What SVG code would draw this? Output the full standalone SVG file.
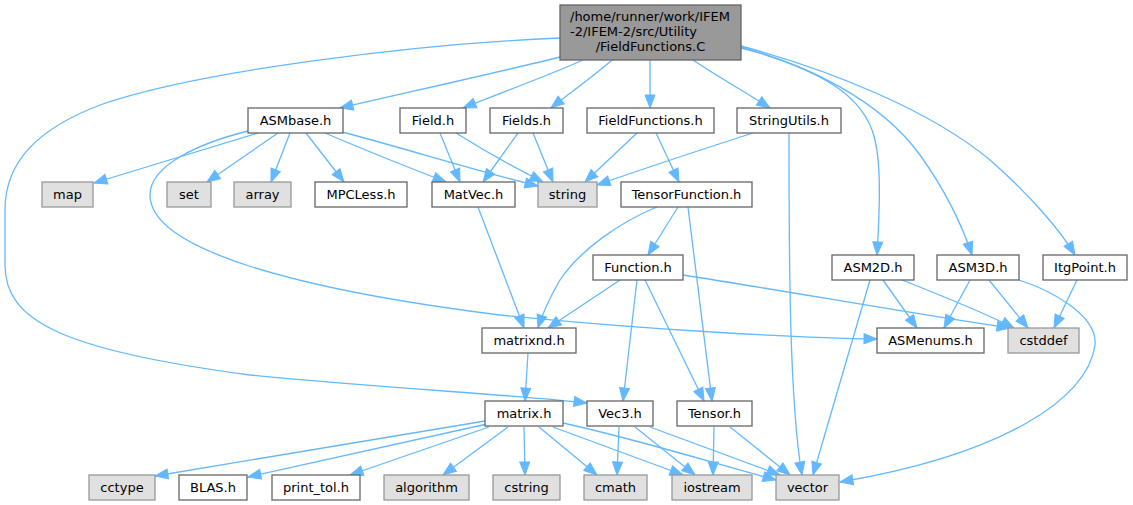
<svg xmlns="http://www.w3.org/2000/svg" width="1133" height="505" viewBox="0 0 1133 505">
<style>
.n rect{fill:#ffffff;stroke:#666666;stroke-width:1.3}
.x rect{fill:#e0e0e0;stroke:#999999;stroke-width:1.3}
.r rect{fill:#999999;stroke:#666666;stroke-width:1.3}
text{font-family:"DejaVu Sans","Liberation Sans",sans-serif;font-size:13px;fill:#000000;text-anchor:middle}
#edges path{fill:none;stroke:#63b8ff;stroke-width:1.3;marker-end:url(#ah)}
</style>
<defs>
<marker id="ah" markerUnits="userSpaceOnUse" markerWidth="15" markerHeight="12" refX="13" refY="5" orient="auto" overflow="visible">
<path d="M0,0 L13,5 L0,10 z" fill="#63b8ff" stroke="#63b8ff" stroke-width="1"/>
</marker>
</defs>
<rect width="1133" height="505" fill="#ffffff"/>
<g id="edges">
<path d="M560,57 C500,72 400,94 340,108"/>
<path d="M583,60 C550,75 500,93 463,108"/>
<path d="M612,60 C595,75 570,93 551,108"/>
<path d="M650,60 L650,108"/>
<path d="M693,60 C715,75 750,95 770,108"/>
<path d="M741,47 C820,70 865,95 875,140 C882,170 879,220 877,255"/>
<path d="M741,48 C806,64 880,100 920,155 C945,190 962,225 972,255"/>
<path d="M741,46 C830,70 930,110 990,160 C1030,195 1060,230 1075,255"/>
<path d="M560,38 C420,44 200,70 100,105 C40,128 5,160 5,210 L5,265 C5,320 60,350 250,375 C380,388 520,395 587,403"/>
<path d="M258,133 L94,183"/>
<path d="M278,133 L207,182"/>
<path d="M290,133 L271,182"/>
<path d="M306,133 L344,182"/>
<path d="M325,133 C360,148 410,168 446,182"/>
<path d="M342,132 C400,147 480,172 538,186"/>
<path d="M248,131 C200,143 150,165 150,195 C150,250 300,290 500,315 C650,330 800,338 877,339"/>
<path d="M440,133 L460,182"/>
<path d="M456,133 C480,148 515,168 543,182"/>
<path d="M518,133 L483,182"/>
<path d="M533,133 L553,182"/>
<path d="M637,133 L585,182"/>
<path d="M656,133 L679,182"/>
<path d="M753,133 C700,150 640,170 597,185"/>
<path d="M789,133 C789,250 789,400 802,475"/>
<path d="M657,207 C620,222 580,250 560,280 C550,297 543,312 538,328"/>
<path d="M678,207 L648,255"/>
<path d="M688,207 L712,401"/>
<path d="M478,207 L524,328"/>
<path d="M620,280 L548,328"/>
<path d="M637,280 L623,401"/>
<path d="M645,280 L704,401"/>
<path d="M683,275 C780,290 920,315 1010,328"/>
<path d="M883,280 L917,328"/>
<path d="M902,280 C940,295 985,313 1014,328"/>
<path d="M870,280 L813,475"/>
<path d="M970,280 L944,328"/>
<path d="M989,280 L1028,328"/>
<path d="M1019,280 C1050,290 1098,315 1095,345 C1088,400 1000,455 840,482"/>
<path d="M1077,280 L1054,328"/>
<path d="M528,353 L525,401"/>
<path d="M485,421 L155,476"/>
<path d="M487,424 L248,477"/>
<path d="M489,427 L350,475"/>
<path d="M508,427 L443,475"/>
<path d="M524,427 L525,475"/>
<path d="M539,427 L597,475"/>
<path d="M553,427 L683,475"/>
<path d="M563,423 C640,440 720,465 776,480"/>
<path d="M619,427 L617,475"/>
<path d="M635,427 L695,475"/>
<path d="M650,427 L780,475"/>
<path d="M714,427 L713,475"/>
<path d="M730,427 L790,475"/>
</g>
<g id="root" class="r"><rect x="560" y="5" width="181" height="55"/>
<text x="570" y="20.5" style="text-anchor:start">/home/runner/work/IFEM</text>
<text x="570" y="35.5" style="text-anchor:start">-2/IFEM-2/src/Utility</text>
<text x="650.5" y="50.5">/FieldFunctions.C</text></g>
<g id="ASMbase" class="n"><rect x="248" y="108" width="95" height="25"/><text x="295.5" y="124.5">ASMbase.h</text></g>
<g id="Field" class="n"><rect x="400" y="108" width="66" height="25"/><text x="433" y="124.5">Field.h</text></g>
<g id="Fields" class="n"><rect x="490" y="108" width="73" height="25"/><text x="526.5" y="124.5">Fields.h</text></g>
<g id="FieldFunctionsH" class="n"><rect x="587" y="108" width="127" height="25"/><text x="650.5" y="124.5">FieldFunctions.h</text></g>
<g id="StringUtils" class="n"><rect x="737" y="108" width="104" height="25"/><text x="789" y="124.5">StringUtils.h</text></g>
<g id="map" class="x"><rect x="42" y="182" width="51" height="25"/><text x="67.5" y="198.5">map</text></g>
<g id="set" class="x"><rect x="167" y="182" width="44" height="25"/><text x="189" y="198.5">set</text></g>
<g id="array" class="x"><rect x="234" y="182" width="57" height="25"/><text x="262.5" y="198.5">array</text></g>
<g id="MPCLess" class="n"><rect x="315" y="182" width="92" height="25"/><text x="361" y="198.5">MPCLess.h</text></g>
<g id="MatVec" class="n"><rect x="432" y="182" width="83" height="25"/><text x="473.5" y="198.5">MatVec.h</text></g>
<g id="string" class="x"><rect x="538" y="182" width="59" height="25"/><text x="567.5" y="198.5">string</text></g>
<g id="TensorFunction" class="n"><rect x="621" y="182" width="131" height="25"/><text x="686.5" y="198.5">TensorFunction.h</text></g>
<g id="Function" class="n"><rect x="593" y="255" width="90" height="25"/><text x="638" y="271.5">Function.h</text></g>
<g id="ASM2D" class="n"><rect x="832" y="255" width="82" height="25"/><text x="873" y="271.5">ASM2D.h</text></g>
<g id="ASM3D" class="n"><rect x="937" y="255" width="82" height="25"/><text x="978" y="271.5">ASM3D.h</text></g>
<g id="ItgPoint" class="n"><rect x="1043" y="255" width="84" height="25"/><text x="1085" y="271.5">ItgPoint.h</text></g>
<g id="matrixnd" class="n"><rect x="482" y="328" width="94" height="25"/><text x="529" y="344.5">matrixnd.h</text></g>
<g id="ASMenums" class="n"><rect x="877" y="328" width="107" height="25"/><text x="930.5" y="344.5">ASMenums.h</text></g>
<g id="cstddef" class="x"><rect x="1008" y="328" width="71" height="25"/><text x="1043.5" y="344.5">cstddef</text></g>
<g id="matrix" class="n"><rect x="485" y="401" width="78" height="25"/><text x="524" y="417.5">matrix.h</text></g>
<g id="Vec3" class="n"><rect x="587" y="401" width="66" height="25"/><text x="620" y="417.5">Vec3.h</text></g>
<g id="Tensor" class="n"><rect x="677" y="401" width="75" height="25"/><text x="714.5" y="417.5">Tensor.h</text></g>
<g id="cctype" class="x"><rect x="89" y="475" width="66" height="25"/><text x="122" y="491.5">cctype</text></g>
<g id="BLAS" class="n"><rect x="179" y="475" width="68" height="25"/><text x="213" y="491.5">BLAS.h</text></g>
<g id="print_tol" class="n"><rect x="272" y="475" width="88" height="25"/><text x="316" y="491.5">print_tol.h</text></g>
<g id="algorithm" class="x"><rect x="384" y="475" width="85" height="25"/><text x="426.5" y="491.5">algorithm</text></g>
<g id="cstring" class="x"><rect x="493" y="475" width="67" height="25"/><text x="526.5" y="491.5">cstring</text></g>
<g id="cmath" class="x"><rect x="584" y="475" width="63" height="25"/><text x="615.5" y="491.5">cmath</text></g>
<g id="iostream" class="x"><rect x="672" y="475" width="80" height="25"/><text x="712" y="491.5">iostream</text></g>
<g id="vector" class="x"><rect x="776" y="475" width="63" height="25"/><text x="807.5" y="491.5">vector</text></g>
</svg>
